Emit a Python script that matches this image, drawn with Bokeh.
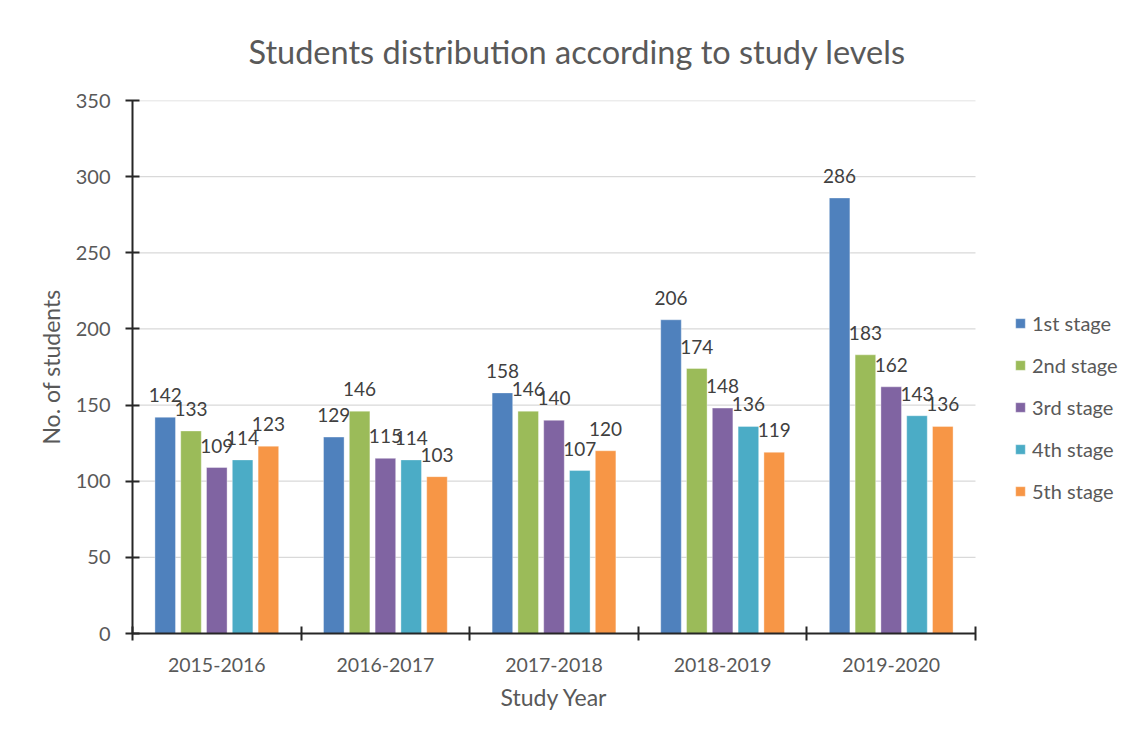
from bokeh.plotting import figure
from bokeh.models import ColumnDataSource, FixedTicker, Range1d, Legend, LegendItem, Title
from bokeh.core.properties import value
from bokeh.embed import file_html
from bokeh.resources import INLINE

years = ["2015-2016", "2016-2017", "2017-2018", "2018-2019", "2019-2020"]
stages = ["1st stage", "2nd stage", "3rd stage", "4th stage", "5th stage"]
stage1 = [142, 129, 158, 206, 286]
stage2 = [133, 146, 146, 174, 183]
stage3 = [109, 115, 140, 148, 162]
stage4 = [114, 114, 107, 136, 143]
stage5 = [123, 103, 120, 119, 136]
series = [stage1, stage2, stage3, stage4, stage5]
colors = ["#4F81BD", "#9BBB59", "#8064A2", "#4BACC6", "#F79646"]
y_ticks = [0, 50, 100, 150, 200, 250, 300, 350]

FONT = "Lato"
TXT = "#595959"

W, H = 1133, 740
LEFT, TOP, BOTTOM, RIGHT = 132, 100, 107, 8
ncat = len(years)
bars_px = 843.0                      # width of the category area in px
frame_px = W - LEFT - RIGHT          # frame also hosts the legend on its right
x_end = ncat * frame_px / bars_px

p = figure(width=W, height=H, output_backend="svg", toolbar_location=None,
           x_range=Range1d(0, x_end), y_range=Range1d(0, 350),
           min_border_left=LEFT, min_border_right=RIGHT,
           min_border_top=TOP, min_border_bottom=BOTTOM)
p.outline_line_color = None
p.background_fill_color = "white"
p.border_fill_color = "white"

p.title.text = "Students distribution according to study levels"
p.title.align = "left"
p.title.offset = 116
p.title.vertical_align = "top"
p.title.text_font = FONT
p.title.text_font_size = "32.5px"
p.title.text_font_style = "normal"
p.title.text_color = TXT
p.title.standoff = 56

# horizontal grid lines, limited to the category area
grid_y = y_ticks[1:]
p.segment(x0=[0] * len(grid_y), x1=[ncat] * len(grid_y), y0=grid_y, y1=grid_y,
          line_color="#D9D9D9", line_width=1.3)

offsets = [-0.306, -0.153, 0.0, 0.153, 0.306]
bw = 0.122
items = []
for k, (name, vals, col) in enumerate(zip(stages, series, colors)):
    xs = [i + 0.5 + offsets[k] for i in range(ncat)]
    src = ColumnDataSource(dict(x=xs, top=vals, lab=[str(v) for v in vals]))
    r = p.vbar(x="x", top="top", width=bw, bottom=0, source=src, fill_color=col,
               line_color="white", line_alpha=0.6, line_width=0.6)
    p.text(x="x", y="top", text="lab", source=src, text_align="center",
           text_baseline="alphabetic", y_offset=-22, text_font=value(FONT),
           text_font_size="19px", text_color="#404040")
    items.append(LegendItem(label=name, renderers=[r]))

legend = Legend(items=items, location=(882, 130), orientation="vertical")
legend.label_text_font = FONT
legend.label_text_font_size = "20px"
legend.label_text_color = TXT
legend.glyph_width = 12
legend.glyph_height = 12
legend.label_standoff = 6
legend.spacing = 18
legend.border_line_color = None
legend.background_fill_alpha = 0
legend.margin = 0
legend.padding = 0
p.add_layout(legend)

p.xgrid.grid_line_color = None
p.ygrid.grid_line_color = None

# y axis
p.yaxis.ticker = FixedTicker(ticks=y_ticks)
p.yaxis.axis_line_color = "#262626"
p.yaxis.axis_line_width = 2
p.yaxis.major_tick_in = 7
p.yaxis.major_tick_out = 7
p.yaxis.major_tick_line_color = "#262626"
p.yaxis.major_tick_line_width = 2
p.yaxis.minor_tick_line_color = None
p.yaxis.major_label_text_font = FONT
p.yaxis.major_label_text_font_size = "20px"
p.yaxis.major_label_text_color = TXT
p.yaxis.major_label_standoff = 15
p.yaxis.axis_label = "No. of students"
p.yaxis.axis_label_text_font = FONT
p.yaxis.axis_label_text_font_size = "23px"
p.yaxis.axis_label_text_font_style = "normal"
p.yaxis.axis_label_text_color = TXT
p.yaxis.axis_label_standoff = 8

# x axis: labels at category centres, ticks at category boundaries
centers = [i + 0.5 for i in range(ncat)]
p.xaxis.bounds = (0, ncat)
p.xaxis.ticker = FixedTicker(ticks=centers, minor_ticks=list(range(ncat + 1)))
p.xaxis.major_label_overrides = {c: y for c, y in zip(centers, years)}
p.xaxis.axis_line_color = "#262626"
p.xaxis.axis_line_width = 2
p.xaxis.major_tick_line_color = None
p.xaxis.major_tick_in = 0
p.xaxis.major_tick_out = 0
p.xaxis.minor_tick_line_color = "#262626"
p.xaxis.minor_tick_line_width = 2
p.xaxis.minor_tick_in = 7
p.xaxis.minor_tick_out = 7
p.xaxis.major_label_text_font = FONT
p.xaxis.major_label_text_font_size = "19.5px"
p.xaxis.major_label_text_color = TXT
p.xaxis.major_label_standoff = 17

# x-axis title, centred under the category area (not the whole frame)
xtitle = Title(text="Study Year", align="left", offset=368, standoff=12,
               text_font=FONT, text_font_size="23px", text_font_style="normal",
               text_color=TXT)
p.add_layout(xtitle, "below")

open("out.html", "w").write(file_html(p, INLINE))
